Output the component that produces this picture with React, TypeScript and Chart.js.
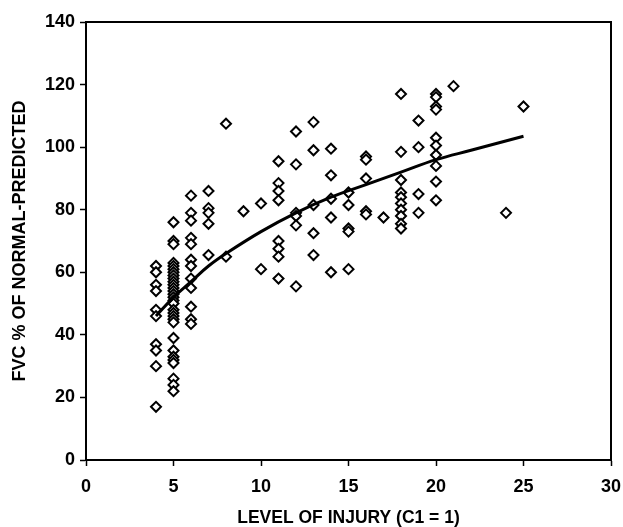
import React, { useEffect, useRef } from "react";
import { Chart, registerables } from "chart.js";

Chart.register(...registerables);

// FVC % of normal-predicted values, grouped by level of injury (C1 = 1)
const level4 = [62, 60, 56, 54, 48, 46, 37, 35, 30, 17];
const level5 = [76, 70, 69, 63, 62, 61, 60, 59, 58, 57, 56, 55, 54, 53, 52, 51, 50, 48, 47, 46, 45, 44, 39, 35, 33, 32, 31, 26, 24, 22];
const level6 = [84.5, 79, 76.5, 71, 69, 64, 62, 58, 55, 49, 45, 43.5];
const level7 = [86, 80.5, 79, 75.5, 65.5];
const level8 = [107.5, 65];
const level9 = [79.5];
const level10 = [82, 61];
const level11 = [95.5, 88.5, 86, 83, 70, 67.5, 65, 58];
const level12 = [105, 94.5, 79, 78, 75, 55.5];
const level13 = [108, 99, 81.5, 72.5, 65.5];
const level14 = [99.5, 91, 83.5, 77.5, 60];
const level15 = [85.5, 81.5, 74, 73, 61];
const level16 = [97, 96, 90, 79.5, 78.5];
const level17 = [77.5];
const level18 = [117, 98.5, 89.5, 85.5, 84, 82, 80, 78, 75.5, 74];
const level19 = [108.5, 100, 85, 79];
const level20 = [117, 116, 113, 112, 103, 100.5, 97.5, 94, 89, 83];
const level21 = [119.5];
const level24 = [79];
const level25 = [113];

const levels = [4, 5, 6, 7, 8, 9, 10, 11, 12, 13, 14, 15, 16, 17, 18, 19, 20, 21, 24, 25];
const groups = [level4, level5, level6, level7, level8, level9, level10, level11, level12, level13, level14, level15, level16, level17, level18, level19, level20, level21, level24, level25];

// Trend curve
const trendX = [4, 5, 6, 7, 8, 10, 12, 14, 16, 18, 20, 22, 25];
const trendY = [46, 52, 57, 62, 66, 73, 79, 84, 88, 92, 96, 99, 103.5];

const xTicks = [0, 5, 10, 15, 20, 25, 30];
const yTicks = [0, 20, 40, 60, 80, 100, 120, 140];

const FONT = "'Liberation Sans', Arial, sans-serif";

const boxPlugin = {
  id: "box",
  afterDraw(chart: any) {
    const { ctx, chartArea } = chart;
    ctx.save();
    ctx.strokeStyle = "#000";
    ctx.lineWidth = 2;
    ctx.strokeRect(chartArea.left, chartArea.top, chartArea.right - chartArea.left, chartArea.bottom - chartArea.top);
    ctx.restore();
  },
};

export default function App() {
  const ref = useRef<HTMLCanvasElement>(null);
  useEffect(() => {
    if (!ref.current) return;
    const points: { x: number; y: number }[] = [];
    levels.forEach((lv, i) => groups[i].forEach((v) => points.push({ x: lv, y: v })));
    const trend = trendX.map((x, i) => ({ x, y: trendY[i] }));
    const chart = new Chart(ref.current, {
      type: "scatter",
      data: {
        datasets: [
          {
            type: "line",
            data: trend,
            borderColor: "#000",
            borderWidth: 3,
            pointRadius: 0,
            tension: 0.4,
            fill: false,
          } as any,
          {
            data: points,
            pointStyle: "rectRot",
            pointRadius: 5,
            pointBorderWidth: 2,
            pointBorderColor: "#000",
            pointBackgroundColor: "#fff",
          },
        ],
      },
      options: {
        animation: false,
        responsive: false,
        layout: { padding: { top: 22, right: 12, left: 0, bottom: 0 } },
        plugins: { legend: { display: false }, tooltip: { enabled: false } },
        scales: {
          x: {
            type: "linear",
            min: 0,
            max: 30,
            afterBuildTicks: (s: any) => {
              s.ticks = xTicks.map((v) => ({ value: v }));
            },
            afterFit: (s: any) => {
              s.height = 67;
              s.paddingLeft = 0;
              s.paddingRight = 0;
            },
            grid: { drawOnChartArea: false, color: "#000", tickLength: 6, tickWidth: 1.5 },
            border: { color: "#000", width: 2 },
            ticks: { color: "#000", font: { family: FONT, size: 18, weight: "bold" }, padding: 10, maxRotation: 0 },
            title: { display: true, text: "LEVEL OF INJURY (C1 = 1)", color: "#000", font: { family: FONT, size: 17.5, weight: "bold", lineHeight: 1 }, padding: { top: 0, bottom: 0 } },
          },
          y: {
            type: "linear",
            min: 0,
            max: 140,
            afterBuildTicks: (s: any) => {
              s.ticks = yTicks.map((v) => ({ value: v }));
            },
            afterFit: (s: any) => {
              s.width = 86;
              s.paddingTop = 0;
              s.paddingBottom = 0;
            },
            grid: { drawOnChartArea: false, color: "#000", tickLength: 6, tickWidth: 1.5 },
            border: { color: "#000", width: 2 },
            ticks: { color: "#000", font: { family: FONT, size: 18, weight: "bold" }, padding: 5 },
            title: { display: true, text: "FVC % OF NORMAL-PREDICTED", color: "#000", font: { family: FONT, size: 18, weight: "bold" }, padding: { top: 9, bottom: 0 } },
          },
        },
      },
      plugins: [boxPlugin],
    });
    return () => chart.destroy();
  }, []);
  return (
    <div style={{ position: "absolute", left: 0, top: 0, width: 623, height: 527, background: "#fff" }}>
      <canvas ref={ref} width={623} height={527} style={{ width: 623, height: 527 }} />
    </div>
  );
}
